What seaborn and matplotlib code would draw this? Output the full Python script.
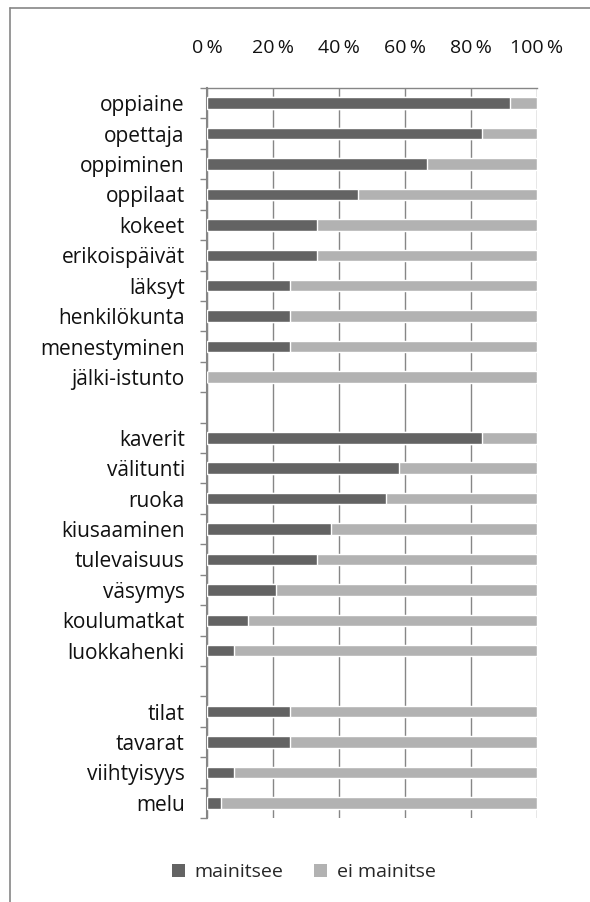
import matplotlib
matplotlib.use("Agg")
import matplotlib.pyplot as plt
from matplotlib.lines import Line2D
from matplotlib.patches import Patch
from matplotlib.ticker import FixedLocator
import seaborn as sns
import pandas as pd

# Topics in display order; blank entries separate the three groups
categories = [
    "oppiaine", "opettaja", "oppiminen", "oppilaat", "kokeet", "erikoispäivät",
    "läksyt", "henkilökunta", "menestyminen", "jälki-istunto", " ",
    "kaverit", "välitunti", "ruoka", "kiusaaminen", "tulevaisuus", "väsymys",
    "koulumatkat", "luokkahenki", "  ",
    "tilat", "tavarat", "viihtyisyys", "melu",
]
topics = [c for c in categories if c.strip()]

# Share of answers mentioning each topic (%)
mainitsee = [
    91.7, 83.3, 66.7, 45.8, 33.3, 33.3, 25.0, 25.0, 25.0, 0.0,
    83.3, 58.3, 54.2, 37.5, 33.3, 20.8, 12.5, 8.3,
    25.0, 25.0, 8.3, 4.2,
]
ei_mainitse = [100 - v for v in mainitsee]

series_names = ["mainitsee", "ei mainitse"]
colors = ["#636363", "#b2b2b2"]
tick_values = [0, 20, 40, 60, 80, 100]
tick_labels = [f"{v}\u2009%" for v in tick_values]

df = pd.DataFrame({"aihe": topics, "mainitsee": mainitsee, "ei_mainitse": ei_mainitse})
df["yhteensa"] = df["mainitsee"] + df["ei_mainitse"]

sns.set_theme(style="white")
plt.rcParams["font.family"] = ["Open Sans", "DejaVu Sans"]
FS = 14

fig = plt.figure(figsize=(5.9, 9.02), dpi=100)
ax = fig.add_axes([207 / 590, 1 - 818 / 902, 330 / 590, 730 / 902])

grid_col = "#868686"
ax.set_axisbelow(True)
for v in tick_values:
    ax.axvline(v, color=grid_col, lw=1.0, zorder=0)

# stacked horizontal bars: full-length light bar, dark share on top
sns.barplot(data=df, x="yhteensa", y="aihe", order=categories, orient="h",
            color=colors[1], width=0.38, saturation=1, ax=ax, zorder=2)
sns.barplot(data=df, x="mainitsee", y="aihe", order=categories, orient="h",
            color=colors[0], width=0.38, saturation=1, ax=ax, zorder=3)

ax.set_xlim(0, 100)
ax.set_ylim(len(categories) - 0.5, -0.5)
ax.set_xlabel("")
ax.set_ylabel("")

ax.xaxis.tick_top()
ax.set_xticks(tick_values)
ax.set_xticklabels(tick_labels, fontsize=FS, color="#111111")
ax.tick_params(axis="x", which="both", length=0, pad=22, top=True, bottom=False)

ax.set_yticks(range(len(categories)))
ax.set_yticklabels(categories, fontsize=15, color="#111111")
ax.yaxis.set_minor_locator(FixedLocator([i + 0.5 for i in range(-1, len(categories))]))
ax.tick_params(axis="y", which="major", length=0, pad=16)
ax.tick_params(axis="y", which="minor", left=True, length=5, width=1.0, color=grid_col)

for side in ["right", "bottom"]:
    ax.spines[side].set_visible(False)
ax.spines["left"].set_color(grid_col)
ax.spines["left"].set_linewidth(1.5)
ax.spines["top"].set_color(grid_col)
ax.spines["top"].set_linewidth(1.0)

handles = [Patch(facecolor=c, edgecolor="none") for c in colors]
fig.legend(handles, series_names, loc="center", bbox_to_anchor=(0.515, 1 - 872 / 902),
           ncol=2, frameon=False, fontsize=FS, handlelength=0.65, handleheight=0.65,
           handletextpad=0.5, columnspacing=1.6)

# outer frame lines along the left and top edges
fig.add_artist(Line2D([10 / 590, 10 / 590], [0, 1 - 8 / 902], color=grid_col, lw=1.2,
                      transform=fig.transFigure))
fig.add_artist(Line2D([10 / 590, 1], [1 - 8 / 902, 1 - 8 / 902], color=grid_col, lw=1.2,
                      transform=fig.transFigure))

fig.savefig("out.png", dpi=100, facecolor="white")
